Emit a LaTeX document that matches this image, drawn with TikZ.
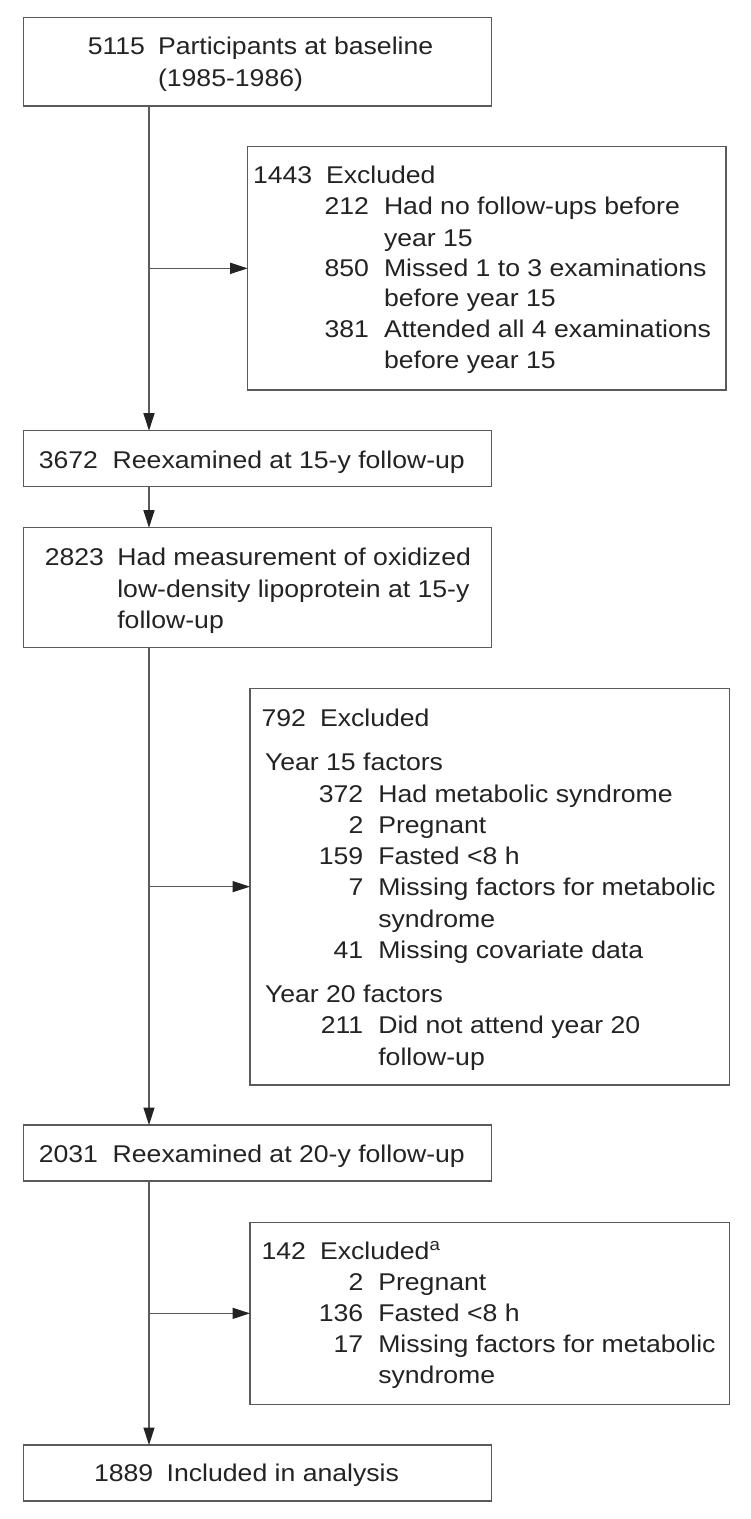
\documentclass[tikz,border=0pt]{standalone}
\usepackage{fontspec}
\newfontfamily\diafont{Liberation Sans}[FakeStretch=1.1]
\usetikzlibrary{arrows.meta}
\definecolor{linecol}{RGB}{90,90,90}
\definecolor{txtcol}{RGB}{35,35,35}
\tikzset{
  box/.style={draw=linecol, line width=0.7pt, rectangle, inner sep=0pt, outer sep=0pt},
  txt/.style={inner sep=0pt, outer sep=0pt, text=txtcol, font=\diafont\fontsize{12.1pt}{15pt}\selectfont},
  arr/.style={draw=linecol, line width=0.7pt, -{Triangle[length=8.75pt,width=5.5pt,color=txtcol]}},
}
\newcommand\numline[6]{%
  \node[txt,anchor=base east] (#1n) at (#2,#4) {#5};
  \node[txt,anchor=base west] (#1t) at (#3,#4) {#6};}
\newcommand\txtline[4]{%
  \node[txt,anchor=base west] (#1) at (#2,#3) {#4};}
\begin{document}
\begin{tikzpicture}[x=0.5pt,y=-0.5pt]
\useasboundingbox (0,0) rectangle (750,1519);
\fill[white] (0,0) rectangle (750,1519);

% main boxes
\node[box, minimum width=234.2pt, minimum height=44.15pt] (b1) at (257.5,61.85) {};
\node[box, minimum width=234.2pt, minimum height=28pt] (b2) at (257.5,458.7) {};
\node[box, minimum width=234.2pt, minimum height=60pt] (b3) at (257.5,587.7) {};
\node[box, minimum width=234.2pt, minimum height=28pt] (b4) at (257.5,1153) {};
\node[box, minimum width=234.2pt, minimum height=28pt] (b5) at (257.5,1473) {};
% exclusion boxes
\node[box, minimum width=239.15pt, minimum height=121.65pt] (e1) at (486.85,268.35) {};
\node[box, minimum width=239.65pt, minimum height=198.35pt] (e2) at (489.65,886.65) {};
\node[box, minimum width=239.65pt, minimum height=90.85pt] (e3) at (489.65,1313.35) {};

% connectors
\coordinate (sp) at (149,0);
\draw[arr] (b1.south -| sp) -- (b2.north -| sp);
\draw[arr] (b2.south -| sp) -- (b3.north -| sp);
\draw[arr] (b3.south -| sp) -- (b4.north -| sp);
\draw[arr] (b4.south -| sp) -- (b5.north -| sp);
\draw[arr] (e1.west -| sp) -- (e1.west);
\draw[arr] (e2.west -| sp) -- (e2.west);
\draw[arr] (e3.west -| sp) -- (e3.west);

% box 1
\numline{a1}{145}{158}{55}{5115}{Participants at baseline}
\txtline{a2}{158}{87}{(1985-1986)}
% exclusion 1
\numline{c1}{312.3}{326}{183.3}{1443}{Excluded}
\numline{c2}{369}{384}{215}{212}{Had no follow-ups before}
\txtline{c3}{384}{246.3}{year 15}
\numline{c4}{369}{384}{276.2}{850}{Missed 1 to 3 examinations}
\txtline{c5}{384}{306.9}{before year 15}
\numline{c6}{369}{384}{337.5}{381}{Attended all 4 examinations}
\txtline{c7}{384}{368.3}{before year 15}
% box 2
\numline{d1}{98}{112.7}{468.3}{3672}{Reexamined at 15-y follow-up}
% box 3
\numline{f1}{104}{117.3}{565}{2823}{Had measurement of oxidized}
\txtline{f2}{117.3}{597}{low-density lipoprotein at 15-y}
\txtline{f3}{117.3}{628.3}{follow-up}
% exclusion 2
\numline{g1}{306}{320}{726}{792}{Excluded}
\txtline{g2}{265}{770.7}{Year 15 factors}
\numline{g3}{363.3}{378.3}{802.3}{372}{Had metabolic syndrome}
\numline{g4}{363.3}{378.3}{833.5}{2}{Pregnant}
\numline{g5}{363.3}{378.3}{864.7}{159}{Fasted <8 h}
\numline{g6}{363.3}{378.3}{895.9}{7}{Missing factors for metabolic}
\txtline{g7}{378.3}{927.1}{syndrome}
\numline{g8}{363.3}{378.3}{958.3}{41}{Missing covariate data}
\txtline{g9}{265}{1002.7}{Year 20 factors}
\numline{g10}{363.3}{378.3}{1033.5}{211}{Did not attend year 20}
\txtline{g11}{378.3}{1065}{follow-up}
% box 4
\numline{h1}{98}{112.7}{1162.7}{2031}{Reexamined at 20-y follow-up}
% exclusion 3
\numline{k1}{306}{320}{1259.3}{142}{Excluded\textsuperscript{a}}
\numline{k2}{363.3}{378.3}{1290.3}{2}{Pregnant}
\numline{k3}{363.3}{378.3}{1321.3}{136}{Fasted <8 h}
\numline{k4}{363.3}{378.3}{1352.3}{17}{Missing factors for metabolic}
\txtline{k5}{378.3}{1383.3}{syndrome}
% box 5
\numline{m1}{153.3}{166.7}{1481.7}{1889}{Included in analysis}
\end{tikzpicture}
\end{document}
